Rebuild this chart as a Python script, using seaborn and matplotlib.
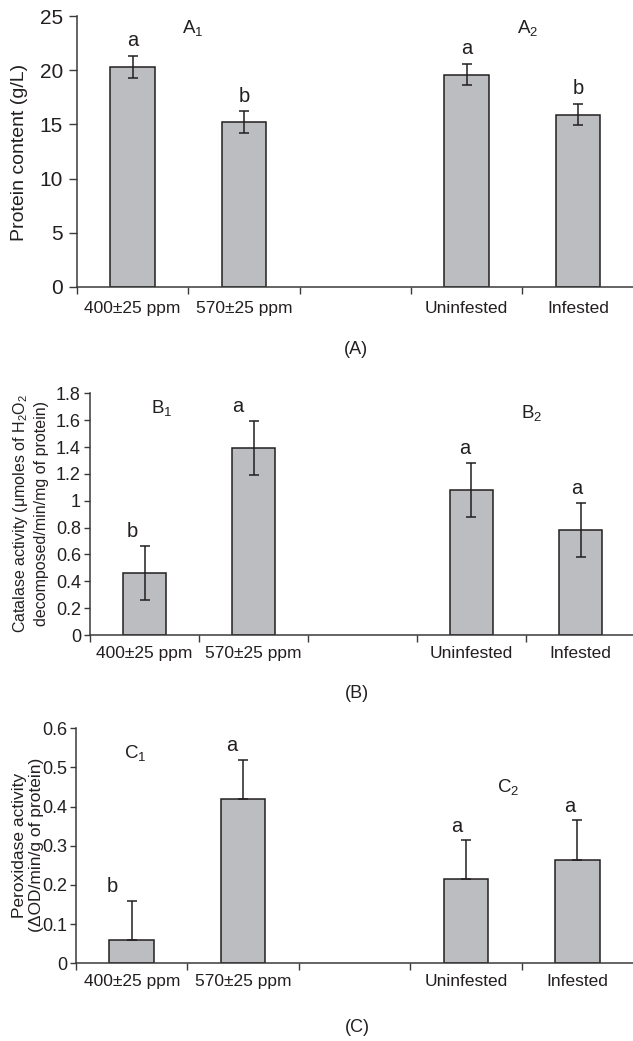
import matplotlib
matplotlib.use("Agg")
import matplotlib.pyplot as plt
import seaborn as sns
import numpy as np

# ---------------- data ----------------
categories = ["400±25 ppm", "570±25 ppm", "Uninfested", "Infested"]
slot_order = ["400±25 ppm", "570±25 ppm", " ", "Uninfested", "Infested"]

protein = [20.3, 15.2, 19.6, 15.9]
protein_err = [1.0, 1.0, 1.0, 1.0]
protein_letters = ["a", "b", "a", "b"]

catalase = [0.46, 1.39, 1.08, 0.78]
catalase_err = [0.20, 0.20, 0.20, 0.20]
catalase_letters = ["b", "a", "a", "a"]

peroxidase = [0.06, 0.42, 0.215, 0.265]
peroxidase_err = [0.10, 0.10, 0.10, 0.10]
peroxidase_letters = ["b", "a", "a", "a"]

A_ticks = [0, 5, 10, 15, 20, 25]
A_ticklabels = ["0", "5", "10", "15", "20", "25"]
B_ticks = [0, 0.2, 0.4, 0.6, 0.8, 1.0, 1.2, 1.4, 1.6, 1.8]
B_ticklabels = ["0", "0.2", "0.4", "0.6", "0.8", "1", "1.2", "1.4", "1.6", "1.8"]
C_ticks = [0, 0.1, 0.2, 0.3, 0.4, 0.5, 0.6]
C_ticklabels = ["0", "0.1", "0.2", "0.3", "0.4", "0.5", "0.6"]

# ---------------- style ----------------
sns.set_style("ticks")
plt.rcParams['font.family'] = ['Liberation Sans', 'DejaVu Sans']
plt.rcParams['mathtext.fontset'] = 'custom'
plt.rcParams['mathtext.rm'] = 'Liberation Sans'
plt.rcParams['mathtext.it'] = 'Liberation Sans:italic'
plt.rcParams['mathtext.default'] = 'regular'

BAR = "#bcbdc1"
INK = "#231f20"
AXC = "#3a3a3a"
SANS = ['Liberation Sans', 'DejaVu Sans']

fig = plt.figure(figsize=(6.33, 10.41), dpi=100)
W, H = 633.0, 1041.0


def make_axes(left, top_px, bottom_px, slot_px):
    return fig.add_axes([left / W, 1 - bottom_px / H, 5 * slot_px / W, (bottom_px - top_px) / H])


def panel(ax, values, errs, letters, ylim, yticks, yticklabels, symmetric,
          letter_off, letter_dx, ytick_size, ytick_len, ytick_pad, xpad):
    sns.barplot(x=categories, y=values, order=slot_order, color=BAR, edgecolor=INK,
                linewidth=1.1, width=0.4, saturation=1, errorbar=None, ax=ax)
    pos = [slot_order.index(c) for c in categories]
    errs_a = np.asarray(errs)
    if symmetric:
        yerr = errs_a
    else:
        yerr = [np.zeros_like(errs_a), errs_a]
    ax.errorbar(pos, values, yerr=yerr, fmt='none', ecolor=INK, elinewidth=1.1,
                capsize=3.6, capthick=1.1, zorder=5)
    ax.set_xlim(-0.5, 4.5)
    ax.set_ylim(*ylim)
    ax.set_xlabel("")
    ax.set_ylabel("")
    # major ticks at slot boundaries, labels at bar centres (minor)
    ax.set_xticks([-0.5, 0.5, 1.5, 2.5, 3.5])
    ax.set_xticklabels([""] * 5)
    ax.set_xticks(pos, minor=True)
    ax.set_xticklabels(categories, minor=True, fontsize=12.5, color=INK)
    ax.tick_params(axis='x', which='major', length=5, width=1.0, color=AXC, direction='out')
    ax.tick_params(axis='x', which='minor', length=0, pad=xpad)
    ax.set_yticks(yticks)
    ax.set_yticklabels(yticklabels, fontsize=ytick_size, color=INK, family=SANS)
    ax.tick_params(axis='y', length=ytick_len, width=1.0, color=AXC, direction='out', pad=ytick_pad)
    sns.despine(ax=ax)
    for s in ("left", "bottom"):
        ax.spines[s].set_color(AXC)
        ax.spines[s].set_linewidth(1.1)
    for i, p in enumerate(pos):
        ax.text(p + letter_dx[i], values[i] + errs[i] + letter_off, letters[i],
                ha='center', va='center', fontsize=14.5, color=INK)


# ---------- Panel A ----------
axA = make_axes(77, 16, 287, 111.3)
panel(axA, protein, protein_err, protein_letters, (0, 25), A_ticks, A_ticklabels, True,
      1.4, [0, 0, 0, 0], 15, 6, 4, 10)
axA.text(0.54, 23.9, "A$_1$", ha='center', va='center', fontsize=13.5, color=INK)
axA.text(3.55, 23.9, "A$_2$", ha='center', va='center', fontsize=13.5, color=INK)
fig.text(20 / W, 1 - 152 / H, "Protein content (g/L)", rotation=90, ha='center', va='center',
         fontsize=14, color=INK)
fig.text(356 / W, 1 - 350 / H, "(A)", ha='center', va='center', fontsize=13, color=INK)

# ---------- Panel B ----------
axB = make_axes(90, 393.3, 635, 109)
panel(axB, catalase, catalase_err, catalase_letters, (0, 1.8), B_ticks, B_ticklabels, True,
      0.11, [-0.11, -0.14, -0.06, -0.03], 13, 4, 2.5, 8)
axB.text(0.16, 1.69, "B$_1$", ha='center', va='center', fontsize=13.5, color=INK)
axB.text(3.555, 1.653, "B$_2$", ha='center', va='center', fontsize=13.5, color=INK)
fig.text(30 / W, 1 - 513 / H, "Catalase activity (μmoles of H$_2$O$_2$\ndecomposed/min/mg of protein)",
         rotation=90, ha='center', va='center', multialignment='center', linespacing=1.35,
         fontsize=11.5, color=INK)
fig.text(357 / W, 1 - 693 / H, "(B)", ha='center', va='center', fontsize=13, color=INK)

# ---------- Panel C ----------
axC = make_axes(76, 728.3, 963.3, 111.4)
panel(axC, peroxidase, peroxidase_err, peroxidase_letters, (0, 0.6), C_ticks, C_ticklabels, False,
      0.035, [-0.17, -0.1, -0.08, -0.07], 13, 4, 2, 8)
axC.text(0.03, 0.537, "C$_1$", ha='center', va='center', fontsize=13.5, color=INK)
axC.text(3.38, 0.451, "C$_2$", ha='center', va='center', fontsize=13.5, color=INK)
fig.text(28 / W, 1 - 845 / H, "Peroxidase activity\n(ΔOD/min/g of protein)",
         rotation=90, ha='center', va='center', multialignment='center', linespacing=1.12,
         fontsize=12.5, color=INK)
fig.text(357 / W, 1 - 1028 / H, "(C)", ha='center', va='center', fontsize=13, color=INK)

fig.savefig("out.png", dpi=100)
